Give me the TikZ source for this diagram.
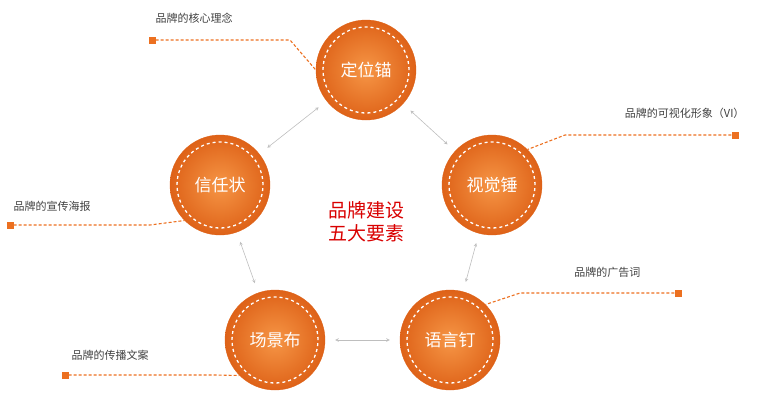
\documentclass[tikz,border=0pt]{standalone}
\usepackage{fontspec}
\setmainfont{Noto Sans CJK SC}
\usetikzlibrary{positioning}
\definecolor{brandorange}{RGB}{236,112,32}
\definecolor{lightorange}{RGB}{246,150,70}
\definecolor{darkorange}{RGB}{222,98,24}
\definecolor{linkgray}{RGB}{190,190,190}
\begin{document}
\begin{tikzpicture}[x=1pt,y=-1pt]
    \tikzstyle{element}=[circle,minimum size=100pt,inner sep=0pt,
        inner color=lightorange,outer color=darkorange,draw=darkorange,
        text=white,font=\fontsize{17}{20}\selectfont]
    \tikzstyle{ring}=[circle,minimum size=86pt,draw=white,dashed,line width=1.3pt]
    \tikzstyle{note}=[font=\fontsize{11}{13}\selectfont,text=black!75]
    \tikzstyle{tip}=[fill=brandorange,minimum size=7pt,inner sep=0pt]
    \tikzstyle{leader}=[draw=brandorange,densely dashed,line width=1.1pt]
    \tikzstyle{link}=[<->,>=stealth,draw=linkgray,line width=0.6pt,shorten >=10pt,shorten <=10pt]
    \useasboundingbox (0,0) rectangle (765,400);

    % the five elements
    \foreach \name / \x / \y / \txt in {dw/366/70/定位锚, sj/492/185/视觉锤, yy/450/340/语言钉,
        cj/275/340/场景布, xr/220/185/信任状}
        {
        \node[element] (\name) at (\x,\y) {};
        \node[ring] at (\name) {};
        \node[text=white,font=\fontsize{17}{20}\selectfont] at (\name) {\txt};
        }

    % title in the middle
    \node[text=red!85!black,font=\fontsize{19}{23}\selectfont,align=center] (title) at (366,222) {品牌建设\\五大要素};

    % links between neighbours
    \draw[link] (dw) -- (sj);
    \draw[link] (sj) -- (yy);
    \draw[link] (yy) -- (cj);
    \draw[link] (cj) -- (xr);
    \draw[link] (xr) -- (dw);

    % annotations
    \node[tip] (t1) at (152,40) {};
    \node[note,anchor=west] (n1) at (152,18) {品牌的核心理念};
    \coordinate (k1) at (290,40);
    \draw[leader] (t1) -- (k1) -- (dw.west);

    \node[tip] (t2) at (735,135) {};
    \node[note,anchor=east] (n2) at (748,113) {品牌的可视化形象（VI）};
    \coordinate (k2) at (565,135);
    \draw[leader] (t2) -- (k2) -- (sj.north east);

    \node[tip] (t3) at (10,225) {};
    \node[note,anchor=west] (n3) at (10,206) {品牌的宣传海报};
    \coordinate (k3) at (150,225);
    \draw[leader] (t3) -- (k3) -- (xr.south west);

    \node[tip] (t4) at (678,293) {};
    \node[note,anchor=east] (n4) at (644,272) {品牌的广告词};
    \coordinate (k4) at (520,293);
    \draw[leader] (t4) -- (k4) -- (yy.north east);

    \node[tip] (t5) at (65,375) {};
    \node[note,anchor=west] (n5) at (68,355) {品牌的传播文案};
    \coordinate (k5) at (215,375);
    \draw[leader] (t5) -- (k5) -- (cj.south west);
\end{tikzpicture}
\end{document}
